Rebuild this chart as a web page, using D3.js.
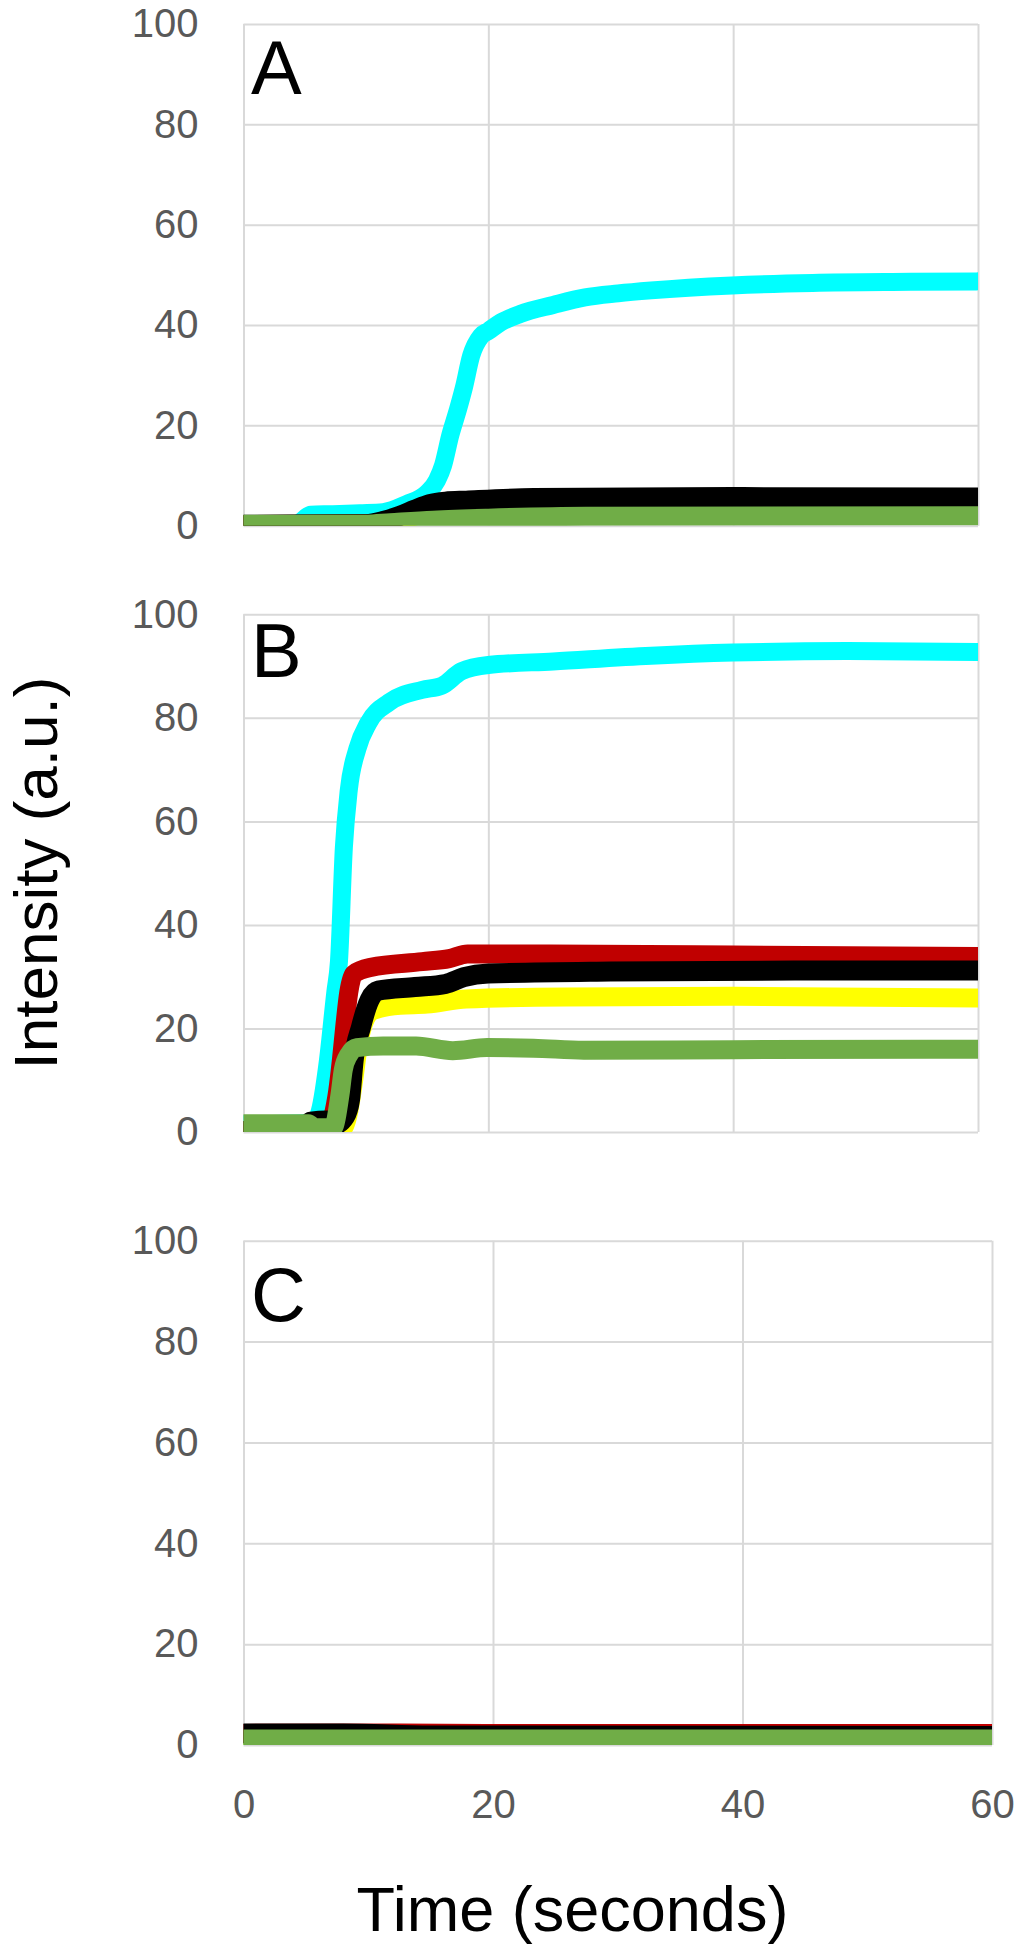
<!DOCTYPE html>
<html><head><meta charset="utf-8">
<script src="https://cdn.jsdelivr.net/npm/d3@7"></script>
<style>body{margin:0;background:#fff}</style>
</head><body><svg id="chart" width="1020" height="1950"></svg>
<script>
// ---------- data ----------
const yTicks = [0, 20, 40, 60, 80, 100];
const xTicks = [0, 20, 40, 60];
const panelLetters = ["A", "B", "C"];
const seriesNames = ["cyan", "yellow", "red", "black", "green"]; // drawing order
const seriesColors = ["#00FFFF", "#FFFF00", "#C00000", "#000000", "#70AD47"];

// Panel A  [time (s), intensity]
const A_cyan = [[0,0.3],[4.3,0.3],[5.5,2.2],[7.3,2.3],[9.5,2.5],[11.4,2.7],[13.3,4.3],[15.0,6.5],[15.8,9],[16.3,12],[16.9,18.1],[17.5,23],[18.0,27.5],[18.6,33.9],[19.4,37.8],[20.0,38.8],[21,40.5],[22.6,42.2],[25.3,44.0],[27.9,45.5],[30.6,46.3],[33.3,46.9],[39.9,47.9],[46.5,48.4],[54.5,48.6],[60,48.7]];
const A_yellow = [[0,0.2],[12,0.5],[15,2.5],[60,3.0]];
const A_red = [[0,0.2],[11,0.4],[14,2.8],[18,3.2],[60,3.5]];
const A_black = [[0,0.2],[10,0.3],[11.5,1.0],[12.8,2.0],[14,3.2],[15.2,4.3],[16.5,4.8],[18.2,5.0],[23.7,5.5],[40,5.7],[60,5.6]];
const A_green = [[0,0.3],[10,0.3],[12,0.6],[15.5,1.1],[20,1.5],[28,1.9],[60,2.0]];

// Panel B
const B_cyan = [[0,1.5],[5.8,1.8],[6.25,4.2],[6.9,13.9],[7.5,27],[7.8,33],[8.2,55],[8.6,66],[9.3,74],[10.2,79],[11.9,83],[14.6,85.4],[16.2,86.2],[17.8,89],[20,90.2],[25.3,90.9],[33.3,92],[40,92.6],[49.3,92.9],[60,92.7]];
const B_yellow = [[0,0.2],[8.0,0.5],[8.6,4],[9.0,10],[9.4,17],[9.9,21.5],[10.6,23.5],[12.8,24.5],[15,24.7],[18.2,25.7],[26.4,26.1],[40,26.2],[60,25.9]];
const B_red = [[0,0.3],[6.8,0.5],[7.3,3],[7.7,8],[8.0,14],[8.3,21],[8.6,27],[9.0,30.5],[10.4,31.8],[14.6,32.9],[16.8,33.5],[18.3,34.4],[25,34.4],[40,34.2],[60,33.9]];
const B_black = [[0,0.2],[5.0,0.4],[5.5,2.0],[6.8,2.2],[7.5,1.5],[8.3,3],[8.7,6.2],[9.0,13.9],[9.6,20.3],[10.3,25.5],[11,27.3],[14,28],[16.5,28.6],[18,29.9],[20,30.6],[30,31.0],[45,31.2],[60,31.2]];
const B_green = [[0,1.6],[5.3,1.6],[5.8,0.8],[7.3,0.8],[7.9,7.5],[8.15,12],[8.6,14.9],[9.25,16.3],[11.4,16.6],[14.1,16.6],[17.1,15.7],[19.9,16.3],[23.7,16.2],[27.8,15.8],[40,15.9],[60,16.0]];

// Panel C
const C_cyan = [[0,0.8],[60,0.8]];
const C_yellow = [[0,1.0],[60,1.0]];
const C_red = [[0,2.3],[12,2.4],[20,2.3],[60,2.3]];
const C_black = [[0,2.3],[8,2.3],[15,1.9],[60,1.8]];
const C_green = [[0,1.2],[60,1.2]];

const panelSeries = [
  [A_cyan, A_yellow, A_red, A_black, A_green],
  [B_cyan, B_yellow, B_red, B_black, B_green],
  [C_cyan, C_yellow, C_red, C_black, C_green]
];

// ---------- layout ----------
const layout = [
  {left:243.5, right:978, top:24,     bottom:525.7, letterY:94,   xLabels:false},
  {left:243.5, right:978, top:614.3,  bottom:1132,  letterY:677,  xLabels:false},
  {left:243.5, right:992, top:1240.7, bottom:1745,  letterY:1321, xLabels:true}
];
const strokeWidths = [18, 19, 19, 20, 19];
const FONT = "'Liberation Sans', Arial, sans-serif";

const svg = d3.select("#chart");

layout.forEach((L, i) => {
  const w = L.right - L.left, h = L.bottom - L.top;
  const x = d3.scaleLinear().domain([0, 60]).range([0, w]);
  const y = d3.scaleLinear().domain([0, 100]).range([h, 0]);
  const g = svg.append("g").attr("transform", `translate(${L.left},${L.top})`);

  // horizontal gridlines + y labels
  const yAx = g.append("g").call(
    d3.axisLeft(y).tickValues(yTicks).tickSize(-w).tickPadding(45).tickFormat(d3.format("d"))
  );
  yAx.select(".domain").remove();
  yAx.selectAll("line").attr("stroke", "#d9d9d9").attr("stroke-width", 2);
  yAx.selectAll("text").attr("font-family", FONT).attr("font-size", 40).attr("fill", "#595959");

  // vertical gridlines + x labels
  const xAx = g.append("g").attr("transform", `translate(0,${h})`).call(
    d3.axisBottom(x).tickValues(xTicks).tickSize(-h).tickPadding(44.6)
      .tickFormat(L.xLabels ? d3.format("d") : () => "")
  );
  xAx.select(".domain").remove();
  xAx.selectAll("line").attr("stroke", "#d9d9d9").attr("stroke-width", 2);
  xAx.selectAll("text").attr("font-family", FONT).attr("font-size", 40).attr("fill", "#595959");

  // clip
  const cid = "clip" + i;
  g.append("clipPath").attr("id", cid).append("rect").attr("x", 0).attr("y", 0).attr("width", w).attr("height", h);

  const line = d3.line().x(d => x(d[0])).y(d => y(d[1])).curve(d3.curveMonotoneX);
  const lg = g.append("g").attr("clip-path", `url(#${cid})`);
  panelSeries[i].forEach((data, k) => {
    lg.append("path")
      .datum(data)
      .attr("d", line)
      .attr("fill", "none")
      .attr("stroke", seriesColors[k])
      .attr("stroke-width", strokeWidths[k])
      .attr("stroke-linejoin", "round")
      .attr("stroke-linecap", "round")
      .attr("class", "series-" + seriesNames[k]);
  });

  // panel letter
  svg.append("text")
    .attr("x", 251).attr("y", L.letterY)
    .attr("font-family", FONT).attr("font-size", 76).attr("fill", "#000")
    .text(panelLetters[i]);
});

// axis titles
svg.append("text")
  .attr("transform", "translate(57,873) rotate(-90)")
  .attr("text-anchor", "middle")
  .attr("font-family", FONT).attr("font-size", 62).attr("fill", "#000")
  .text("Intensity (a.u.)");

svg.append("text")
  .attr("x", 572.5).attr("y", 1931)
  .attr("text-anchor", "middle")
  .attr("font-family", FONT).attr("font-size", 63).attr("fill", "#000")
  .text("Time (seconds)");
</script></body></html>
